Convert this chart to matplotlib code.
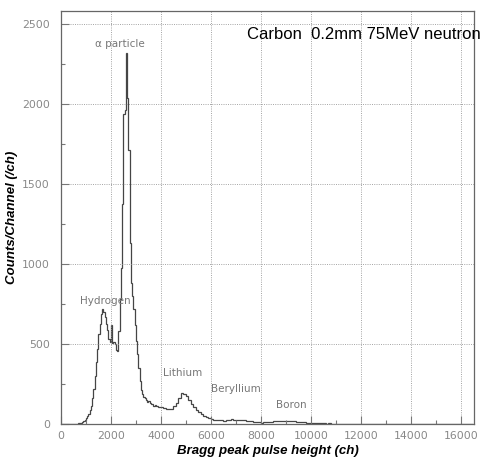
import numpy as np
import matplotlib
matplotlib.use("Agg")
import matplotlib.pyplot as plt
from matplotlib.ticker import MultipleLocator

# ---- data ----
# fine bins (50 ch) from 0 to 4000
counts_fine = [0]*13 + [
    2, 4, 6, 9, 12, 18, 25, 35, 48, 65, 88, 115, 160, 220, 300, 390, 470, 560,
    625, 690, 720, 700, 670, 625, 585, 530, 510, 620, 505, 510, 500, 460, 455,
    580, 780, 975, 1375, 1935, 1960, 2320, 2035, 1712, 1131, 880, 800, 720, 620,
    520, 440, 350, 270, 210, 185, 170, 160, 150, 140, 142, 132, 125, 122, 115,
    118, 110, 112, 105, 108]
# coarse bins (100 ch) from 4000 to 16500
counts_coarse = [
    105, 100, 96, 92, 95, 110, 130, 165, 196, 185, 175, 150, 125, 108, 90, 72, 62, 50, 42, 35,
    30, 27, 24, 25, 22, 20, 22, 26, 30, 28, 25, 27, 24, 22, 20, 19, 17, 14, 12, 10,
    9, 10, 12, 14, 15, 17, 18, 20, 18, 21, 20, 18, 19, 16, 15, 14, 12, 10, 8, 7,
    6, 6, 5, 5, 4, 4, 3, 4, 3, 3, 2, 3, 2, 2, 1, 2, 1, 1, 1, 1,
    1, 1, 0, 1, 0, 1, 0, 0, 1, 0, 0, 1, 0, 0, 0, 1, 0, 0, 0, 0,
    0, 0, 1, 0, 0, 0, 0, 0, 0, 0, 0, 0, 0, 0, 1, 0, 0, 0, 0, 0,
    0, 0, 0, 0, 0]

fine_width = 50
coarse_width = 100
split = 4000
xmax_edge = 16500

labels = ["\u03b1 particle", "Hydrogen", "Lithium", "Beryllium", "Boron"]
label_x = [2360, 1780, 4850, 7000, 9200]
label_y = [2375, 770, 320, 218, 118]

title = "Carbon  0.2mm 75MeV neutron"

# ---- figure ----
edges = np.concatenate([np.arange(0, split, fine_width),
                        np.arange(split, xmax_edge + 1, coarse_width)])
values = np.array(counts_fine + counts_coarse, dtype=float)

fig = plt.figure(figsize=(4.9, 4.61), dpi=100)
ax = fig.add_axes([61/490, 37/461, 413/490, 413/461])

ax.stairs(values, edges, color="#454545", lw=0.9)

ax.set_xlim(0, 16530)
ax.set_ylim(0, 2580)
ax.xaxis.set_major_locator(MultipleLocator(2000))
ax.xaxis.set_minor_locator(MultipleLocator(1000))
ax.yaxis.set_major_locator(MultipleLocator(500))
ax.yaxis.set_minor_locator(MultipleLocator(250))
ax.tick_params(which="both", direction="in", colors="#777777", labelcolor="#888888",
               labelsize=7.8)
ax.tick_params(which="major", length=6, width=0.8)
ax.tick_params(which="minor", length=3, width=0.8)
ax.tick_params(axis="y", pad=8)
ax.tick_params(axis="x", pad=5)
ax.grid(True, which="major", ls=(0, (1.2, 1.5)), color="#999999", lw=0.6)
for s in ax.spines.values():
    s.set_color("#666666")
    s.set_linewidth(0.9)

lab_font = dict(family="Liberation Sans", style="italic", weight="bold", size=9.5)
ax.set_xlabel("Bragg peak pulse height (ch)", labelpad=3, **lab_font)
ax.set_ylabel("Counts/Channel (/ch)", labelpad=3, **lab_font)

ax.text(1.017, 0.962, title, transform=ax.transAxes, ha="right", va="top",
        family="Liberation Sans", size=12, color="black")

for t, x, y in zip(labels, label_x, label_y):
    ax.text(x, y, t, ha="center", va="center", size=7.5, color="#777777")

fig.savefig("out.png", dpi=100)
